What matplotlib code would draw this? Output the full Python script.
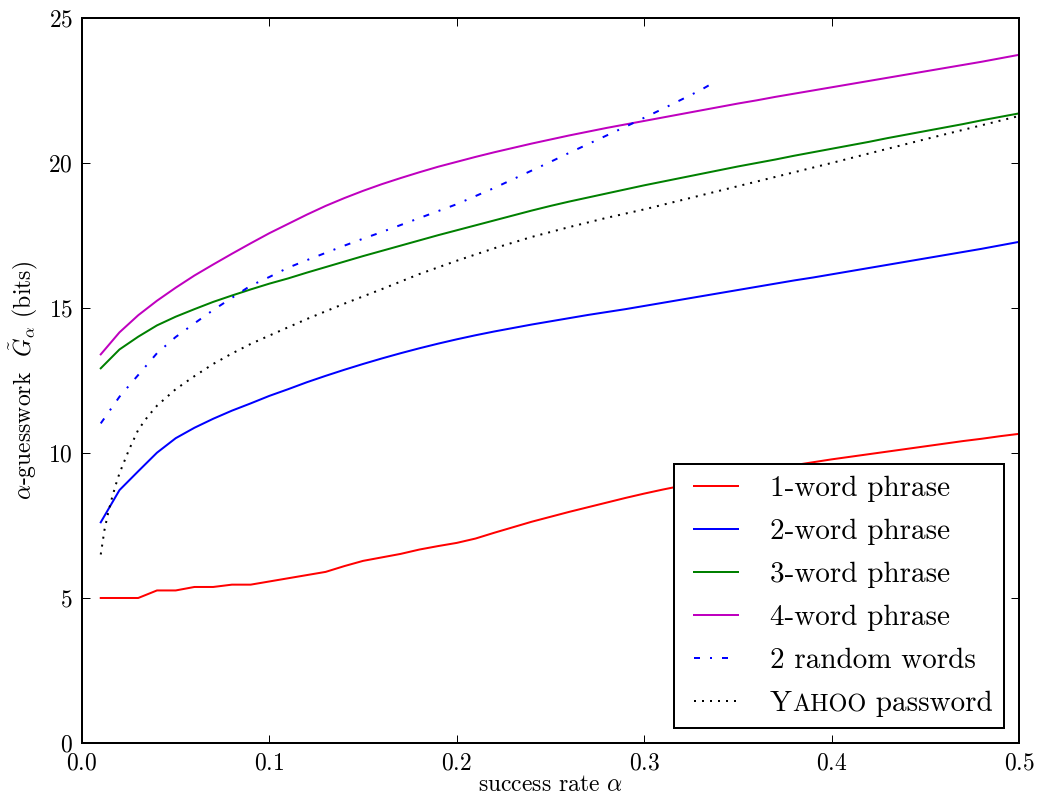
import numpy as np
import matplotlib
matplotlib.use('Agg')
import matplotlib.pyplot as plt
from matplotlib.offsetbox import TextArea, HPacker

# --------------------------------------------------------------------------------
# Data
alpha = [0.01, 0.02, 0.03, 0.04, 0.05, 0.06, 0.07, 0.08, 0.09, 0.10,
         0.11, 0.12, 0.13, 0.14, 0.15, 0.16, 0.17, 0.18, 0.19, 0.20,
         0.21, 0.22, 0.23, 0.24, 0.25, 0.26, 0.27, 0.28, 0.29, 0.30,
         0.31, 0.32, 0.33, 0.34, 0.35, 0.36, 0.37, 0.38, 0.39, 0.40,
         0.41, 0.42, 0.43, 0.44, 0.45, 0.46, 0.47, 0.48, 0.49, 0.50]

word1 = [5.00, 5.00, 5.00, 5.26, 5.26, 5.38, 5.38, 5.46, 5.46, 5.57,
         5.68, 5.79, 5.90, 6.10, 6.28, 6.40, 6.52, 6.67, 6.79, 6.90,
         7.05, 7.25, 7.44, 7.63, 7.80, 7.97, 8.13, 8.29, 8.45, 8.60,
         8.74, 8.87, 9.00, 9.13, 9.25, 9.37, 9.48, 9.58, 9.68, 9.78,
         9.87, 9.96, 10.05, 10.14, 10.23, 10.32, 10.41, 10.49, 10.58, 10.66]

word2 = [7.61, 8.72, 9.37, 10.01, 10.51, 10.87, 11.18, 11.46, 11.71, 11.97,
         12.20, 12.44, 12.66, 12.87, 13.07, 13.26, 13.44, 13.61, 13.77, 13.92,
         14.06, 14.19, 14.31, 14.43, 14.54, 14.65, 14.76, 14.86, 14.96, 15.07,
         15.18, 15.29, 15.40, 15.51, 15.62, 15.73, 15.84, 15.95, 16.05, 16.16,
         16.27, 16.38, 16.49, 16.60, 16.71, 16.82, 16.93, 17.04, 17.16, 17.28]

word3 = [12.92, 13.57, 14.01, 14.40, 14.70, 14.96, 15.21, 15.43, 15.64, 15.84,
         16.02, 16.22, 16.41, 16.60, 16.79, 16.97, 17.15, 17.33, 17.51, 17.68,
         17.85, 18.02, 18.19, 18.36, 18.52, 18.67, 18.81, 18.95, 19.09, 19.23,
         19.36, 19.49, 19.62, 19.75, 19.88, 20.00, 20.12, 20.25, 20.37, 20.49,
         20.61, 20.73, 20.86, 20.98, 21.10, 21.22, 21.34, 21.47, 21.59, 21.71]

word4 = [13.40, 14.16, 14.75, 15.25, 15.70, 16.12, 16.50, 16.87, 17.23, 17.58,
         17.90, 18.22, 18.52, 18.79, 19.04, 19.27, 19.48, 19.68, 19.87, 20.04,
         20.21, 20.37, 20.52, 20.67, 20.81, 20.95, 21.08, 21.21, 21.33, 21.45,
         21.57, 21.69, 21.81, 21.93, 22.05, 22.16, 22.28, 22.39, 22.50, 22.61,
         22.72, 22.83, 22.94, 23.05, 23.16, 23.27, 23.38, 23.49, 23.61, 23.73]

rand_alpha = [0.01, 0.02, 0.03, 0.04, 0.05, 0.06, 0.07, 0.08, 0.09, 0.10,
              0.11, 0.12, 0.13, 0.14, 0.15, 0.16, 0.17, 0.18, 0.19, 0.20,
              0.21, 0.22, 0.23, 0.24, 0.25, 0.26, 0.27, 0.28, 0.29, 0.30,
              0.31, 0.32, 0.33, 0.337]
rand2 = [11.02, 11.94, 12.69, 13.44, 14.00, 14.47, 14.93, 15.35, 15.77, 16.07,
         16.39, 16.65, 16.90, 17.15, 17.39, 17.62, 17.86, 18.10, 18.34, 18.58,
         18.86, 19.14, 19.44, 19.74, 20.04, 20.35, 20.65, 20.95, 21.25, 21.56,
         21.87, 22.19, 22.51, 22.77]

yahoo_alpha = [0.010, 0.012, 0.014, 0.016, 0.018, 0.020, 0.025, 0.030, 0.035, 0.040,
               0.050, 0.060, 0.070, 0.080, 0.090, 0.100, 0.12, 0.14, 0.16, 0.18,
               0.20, 0.22, 0.24, 0.26, 0.28, 0.30, 0.35, 0.40, 0.45, 0.50]
yahoo = [6.50, 7.35, 7.95, 8.45, 8.90, 9.30, 10.10, 10.80, 11.25, 11.63,
         12.20, 12.65, 13.07, 13.43, 13.76, 14.05, 14.62, 15.15, 15.65, 16.17,
         16.63, 17.06, 17.45, 17.79, 18.11, 18.40, 19.20, 20.00, 20.82, 21.62]

xticks = [0.0, 0.1, 0.2, 0.3, 0.4, 0.5]
yticks = [0, 5, 10, 15, 20, 25]
# --------------------------------------------------------------------------------

# --------------------------------------------------------------------------------
# Style
plt.rcParams['font.family'] = 'cmr10'
plt.rcParams['mathtext.fontset'] = 'cm'
plt.rcParams['axes.formatter.use_mathtext'] = True
dLw = 1.44
dLegFont = 21
# --------------------------------------------------------------------------------

# --------------------------------------------------------------------------------
# Figure
fig = plt.figure(figsize=(10.38, 7.96), dpi=100)
ax = fig.add_axes([0.079, 0.0666, 0.9027, 0.9108])

ax.plot(alpha, word1, color='#ff0000', lw=dLw, label='1-word phrase')
ax.plot(alpha, word2, color='#0000ff', lw=dLw, label='2-word phrase')
ax.plot(alpha, word3, color='#008000', lw=dLw, label='3-word phrase')
ax.plot(alpha, word4, color='#bf00bf', lw=dLw, label='4-word phrase')
ax.plot(rand_alpha, rand2, color='#0000ff', lw=dLw, ls=(0, (3, 5, 1, 5)),
        label='2 random words')
ax.plot(yahoo_alpha, yahoo, color='black', lw=dLw, ls=(0, (1, 3)),
        label='YAHOO password')

ax.set_xlim(0, 0.5)
ax.set_ylim(0, 25)
ax.set_xticks(xticks)
ax.set_yticks(yticks)
ax.tick_params(direction='in', top=True, right=True, length=5.8, width=0.72,
               labelsize=17)
ax.tick_params(axis='x', pad=7)
ax.tick_params(axis='y', pad=6.5)
for oSpine in ax.spines.values():
    oSpine.set_linewidth(dLw)

ax.set_xlabel(r'success rate $\alpha$', fontsize=17, labelpad=-1)
ax.set_ylabel(r'$\alpha$-guesswork  $\tilde{G}_\alpha$ (bits)', fontsize=17,
              labelpad=6)

leg = ax.legend(loc='lower right', fontsize=dLegFont, fancybox=False, framealpha=1,
                edgecolor='black', numpoints=2, handlelength=2.1, handletextpad=0.8,
                labelspacing=0.57, borderaxespad=0.51, borderpad=0.38)
leg.get_frame().set_linewidth(dLw)

# Small caps for Yahoo in the legend
for oCol in leg._legend_handle_box.get_children():
    for oRow in oCol.get_children():
        oKids = oRow.get_children()
        if oKids[1].get_text() == 'YAHOO password':
            oSC = HPacker(children=[TextArea('Y', textprops=dict(fontsize=dLegFont)),
                                    TextArea('AHOO', textprops=dict(fontsize=17.5)),
                                    TextArea(' password', textprops=dict(fontsize=dLegFont))],
                          align='baseline', pad=0, sep=0)
            oSC.set_figure(fig)
            oRow._children[1] = oSC

fig.savefig('out.png', dpi=100)
# --------------------------------------------------------------------------------
